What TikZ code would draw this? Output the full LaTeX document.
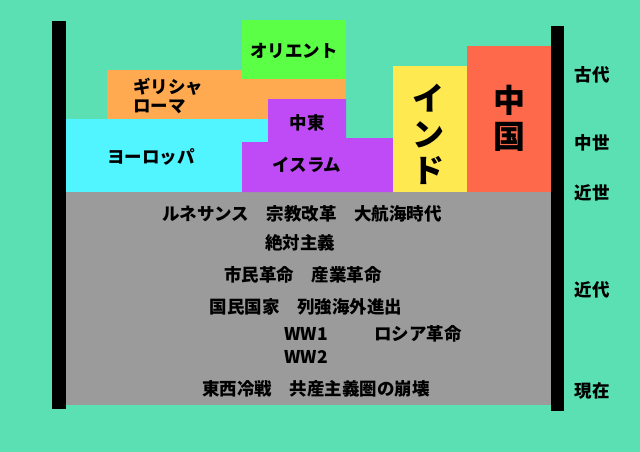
\documentclass[tikz,border=0pt]{standalone}
\usepackage{fontspec}
\usepackage{xcolor}
\usepackage{tikz}
\newfontfamily\jpfont{Noto Sans CJK JP}
\usetikzlibrary{positioning}

\definecolor{bgmint}{RGB}{91,224,179}
\definecolor{eragray}{RGB}{155,155,155}
\definecolor{orientgreen}{RGB}{90,255,70}
\definecolor{greekorange}{RGB}{255,170,80}
\definecolor{europecyan}{RGB}{80,245,255}
\definecolor{islampurple}{RGB}{190,75,245}
\definecolor{indiayellow}{RGB}{255,233,80}
\definecolor{chinared}{RGB}{255,105,75}

\tikzset{
  lbl/.style={font=\jpfont\bfseries\fontsize{17.5}{19}\selectfont, inner sep=0pt, text=black},
  biglbl/.style={font=\jpfont\bfseries\fontsize{32}{36}\selectfont, inner sep=0pt, align=center},
  bar/.style={fill=black}
}

\begin{document}
\begin{tikzpicture}[x=1pt,y=-1pt]
    % Background
    \fill [bgmint] (0,0) rectangle (640,452);

    % Modern era
    \fill [eragray] (66,192) rectangle (551,405);

    % Ancient and medieval regions
    \fill [greekorange] (107,70) rectangle (346,119);
    \fill [orientgreen] (242,20) rectangle (346,79);
    \fill [europecyan] (66,119) rectangle (268,192);
    \fill [islampurple] (268,99) -- (346,99) -- (346,138) -- (393,138) -- (393,192)
        -- (242,192) -- (242,142) -- (268,142) -- cycle;
    \fill [indiayellow] (393,66) rectangle (467,192);
    \fill [chinared] (467,46) rectangle (551,192);

    % Time axes
    \fill [bar] (52,21) rectangle (66,409);
    \fill [bar] (551,26) rectangle (564,411);

    % Region labels
    \node [lbl] (orient) at (294,51) {オリエント};
    \node [lbl, align=left, anchor=west] (greece) at (133,96) {ギリシャ\\ローマ};
    \node [lbl] (europe) at (151,157) {ヨーロッパ};
    \node [lbl] (mideast) at (307,123) {中東};
    \node [lbl] (islam) at (307,165) {イスラム};
    \node [biglbl] (india) at (428,134) {イ\\ン\\ド};
    \node [biglbl] (china) at (509,118) {中\\国};

    % Events
    \node [lbl] (renaiss) at (302,214) {ルネサンス　宗教改革　大航海時代};
    \node [lbl] (absol) at (300,243) {絶対主義};
    \node [lbl] (revol) at (303,275) {市民革命　産業革命};
    \node [lbl] (nation) at (306,307) {国民国家　列強海外進出};
    \node [lbl] (ww1) at (306,334) {WW1};
    \node [lbl] (russia) at (418,334) {ロシア革命};
    \node [lbl] (ww2) at (306,357) {WW2};
    \node [lbl] (coldwar) at (316,389) {東西冷戦　共産主義圏の崩壊};

    % Era names
    \node [lbl] (kodai) at (592,75) {古代};
    \node [lbl] (chusei) at (592,143) {中世};
    \node [lbl] (kinsei) at (592,193) {近世};
    \node [lbl] (kindai) at (592,290) {近代};
    \node [lbl] (genzai) at (592,391) {現在};
\end{tikzpicture}
\end{document}
